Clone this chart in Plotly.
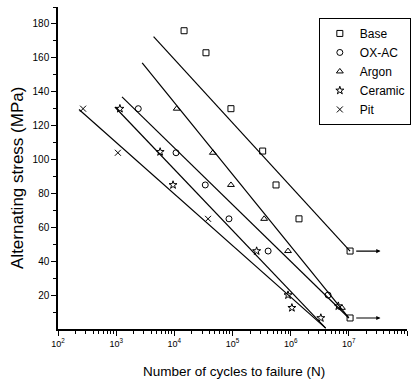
import plotly.graph_objects as go
import math

# ---- data ----
base_N = [1.47e4, 3.5e4, 9.4e4, 3.3e5, 5.6e5, 1.39e6, 1.05e7]
base_S = [176, 163, 130, 105, 85, 65, 46]

oxac_N = [2.4e3, 1.07e4, 3.4e4, 8.7e4, 4.1e5, 4.4e6]
oxac_S = [130, 104, 85, 65, 46, 20]

argon_N = [1.1e4, 4.6e4, 9.4e4, 3.5e5, 9.0e5, 7.6e6]
argon_S = [130, 104, 85, 65, 46, 12.5]

ceramic_N = [1.16e3, 5.7e3, 9.5e3, 2.6e5, 9.0e5, 1.05e6, 3.3e6, 6.6e6]
ceramic_S = [130, 104.5, 85, 46, 20, 12.5, 6.5, 13.5]

pit_N = [270, 1.07e3, 3.8e4]
pit_S = [130, 104, 65]

# run-out points (no failure) and arrow ends
runout_N = [1.05e7]
runout_S = [6.5]
arrow_from_N = [1.05e7, 1.05e7]
arrow_to_N = [3.5e7, 3.5e7]
arrow_S = [46, 6.5]

# fitted S-N lines: [start, end]
fit_names = ["Base", "Argon", "OX-AC", "Ceramic", "Pit"]
fit_N = [[4.4e3, 1.05e7], [2.8e3, 1.0e7], [1.26e3, 1.0e7], [9.5e2, 4.0e6], [2.3e2, 4.0e6]]
fit_S = [[172.5, 46], [157, 6.5], [137, 6.5], [131, 0.5], [129.5, 0.5]]

x_tick_vals = [1e2, 1e3, 1e4, 1e5, 1e6, 1e7, 1e8]
x_tick_text = ["10<sup>2</sup>", "10<sup>3</sup>", "10<sup>4</sup>", "10<sup>5</sup>",
               "10<sup>6</sup>", "10<sup>7</sup>", "10<sup>8</sup>"]
y_tick_vals = [20, 40, 60, 80, 100, 120, 140, 160, 180]

FONT = "Liberation Sans, Arial, sans-serif"
fig = go.Figure()

for n, s in zip(fit_N, fit_S):
    fig.add_trace(go.Scatter(x=n, y=s, mode="lines", line=dict(color="black", width=1.2),
                             showlegend=False, hoverinfo="skip"))

mk = dict(color="black", size=6, line=dict(color="black", width=1))
series = [
    ("Base", base_N, base_S, "square-open"),
    ("OX-AC", oxac_N, oxac_S, "circle-open"),
    ("Argon", argon_N, argon_S, "triangle-up-open"),
    ("Ceramic", ceramic_N, ceramic_S, "star-open"),
    ("Pit", pit_N, pit_S, "x-thin-open"),
]
for name, n, s, sym in series:
    fig.add_trace(go.Scatter(x=n, y=s, mode="markers", name=name,
                             marker=dict(symbol=sym, **mk)))

fig.add_trace(go.Scatter(x=runout_N, y=runout_S, mode="markers", showlegend=False,
                         marker=dict(symbol="square-open", **mk)))

for a, b, s in zip(arrow_from_N, arrow_to_N, arrow_S):
    fig.add_annotation(x=math.log10(b), y=s, ax=math.log10(a) + 0.08, ay=s,
                       xref="x", yref="y", axref="x", ayref="y",
                       showarrow=True, arrowhead=2, arrowsize=0.7, arrowwidth=1.2,
                       arrowcolor="black", text="")

fig.add_annotation(text="Number of cycles to failure (N)", xref="paper", yref="paper",
                   x=0.503, y=-0.1335, showarrow=False, xanchor="center", yanchor="middle",
                   font=dict(family=FONT, size=13.5, color="black"))
fig.add_annotation(text="Alternating stress (MPa)", xref="paper", yref="paper",
                   x=-0.1146, y=0.469, showarrow=False, textangle=-90,
                   xanchor="center", yanchor="middle",
                   font=dict(family=FONT, size=17, color="black"))

fig.update_layout(
    width=414, height=383,
    margin=dict(l=58, r=7, t=7, b=54, autoexpand=False),
    paper_bgcolor="white", plot_bgcolor="white",
    font=dict(family=FONT, color="black"),
    showlegend=True,
    legend=dict(x=1.011, y=0.966, xanchor="right", yanchor="top",
                bordercolor="black", borderwidth=1, bgcolor="white",
                itemwidth=30, tracegroupgap=0,
                font=dict(family=FONT, size=12, color="black")),
    xaxis=dict(type="log", range=[2, 8], tickmode="array", tickvals=x_tick_vals,
               ticktext=x_tick_text, ticks="outside", ticklen=5, tickwidth=1,
               tickcolor="black", showline=True, linecolor="black", linewidth=1.5,
               showgrid=False, zeroline=False, tickfont=dict(size=9), automargin=False,
               minor=dict(ticks="outside", ticklen=3, tickcolor="black",
                          tickvals=[k * 10 ** d for d in range(2, 8) for k in range(2, 10)])),
    yaxis=dict(range=[0, 190], tickmode="array", tickvals=y_tick_vals,
               ticks="outside", ticklen=5, tickwidth=1, tickcolor="black",
               showline=True, linecolor="black", linewidth=1.5,
               showgrid=False, zeroline=False, tickfont=dict(size=10), automargin=False,
               minor=dict(ticks="outside", ticklen=3, tickcolor="black",
                          tickvals=[10, 30, 50, 70, 90, 110, 130, 150, 170, 190])),
)

fig.write_html("out.html", config={"displayModeBar": False},
               post_script="document.body.style.margin='0';document.body.style.overflow='hidden';")
